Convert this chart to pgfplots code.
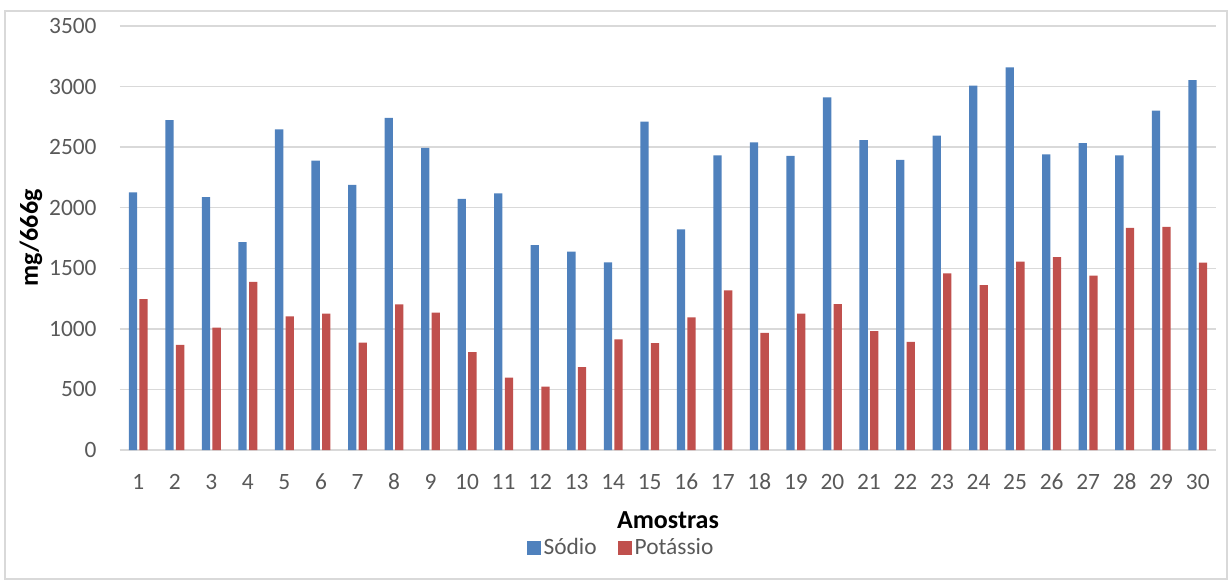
\documentclass[border=0pt]{standalone}
\usepackage{fontspec}
\setmainfont{Carlito}
\usepackage{pgfplots}
\usepackage{pgfplotstable}
\pgfplotsset{compat=1.18}

\definecolor{sodio}{HTML}{4F81BD}
\definecolor{potassio}{HTML}{C0504D}
\definecolor{gridgray}{HTML}{D9D9D9}
\definecolor{ticktext}{HTML}{595959}

% Teores de sódio e potássio (mg/666g) por amostra
\pgfplotstableread{
n  sodio potassio
1  2127  1246
2  2724  867
3  2088  1010
4  1717  1387
5  2647  1103
6  2388  1125
7  2188  886
8  2741  1202
9  2493  1134
10 2072  809
11 2119  597
12 1692  523
13 1637  685
14 1549  913
15 2710  883
16 1822  1095
17 2432  1318
18 2540  966
19 2427  1125
20 2911  1205
21 2559  982
22 2394  892
23 2595  1459
24 3007  1362
25 3159  1555
26 2441  1593
27 2534  1439
28 2432  1833
29 2801  1841
30 3054  1546
}\dados

\begin{document}
\begin{tikzpicture}
\useasboundingbox (-60pt,-65pt) rectangle (554.5pt,225pt);
\draw[gridgray, line width=0.75pt] (-57.5pt,-64.6pt) rectangle (553.6pt,219.5pt);
\begin{axis}[
  at={(0pt,0pt)}, anchor=south west,
  scale only axis, width=548pt, height=212pt,
  ybar=1.15pt, bar width=4.15pt,
  xmin=0.5, xmax=30.5, ymin=0, ymax=3500,
  enlargelimits=false,
  xtick={1,...,30},
  ytick={0,500,...,3500},
  axis lines=left,
  axis line style={draw=none,-},
  major tick length=0pt,
  ymajorgrids,
  grid style={gridgray, line width=0.75pt},
  /pgf/number format/assume math mode=true,
  /pgf/number format/set thousands separator={},
  ticklabel style={font=\fontsize{11.7}{14}\selectfont, text=ticktext},
  xticklabel style={anchor=center, yshift=-15.85pt},
  yticklabel style={anchor=east, inner sep=0pt, xshift=-11.5pt},
  xlabel={Amostras},
  ylabel={mg/666g},
  label style={font=\fontsize{13}{15}\selectfont\bfseries, text=black},
  xlabel style={at={(axis description cs:0.5,0)}, anchor=center, yshift=-35pt},
  ylabel style={at={(axis description cs:0,0.5)}, anchor=center, yshift=44.5pt},
  legend columns=2,
  legend image code/.code={\fill[#1] (0pt,-3.5pt) rectangle (7pt,3.5pt);},
  legend style={draw=none, fill=none, at={(0.4576,-0.2311)}, anchor=center,
    font=\fontsize{11.7}{14}\selectfont, text=ticktext,
    /tikz/every even column/.append style={column sep=9pt},
    nodes={inner sep=1.5pt}},
]
\addplot[draw=none, fill=sodio] table[x=n, y=sodio] {\dados};
\addplot[draw=none, fill=potassio] table[x=n, y=potassio] {\dados};
\legend{Sódio, Potássio}
\end{axis}
\end{tikzpicture}
\end{document}
